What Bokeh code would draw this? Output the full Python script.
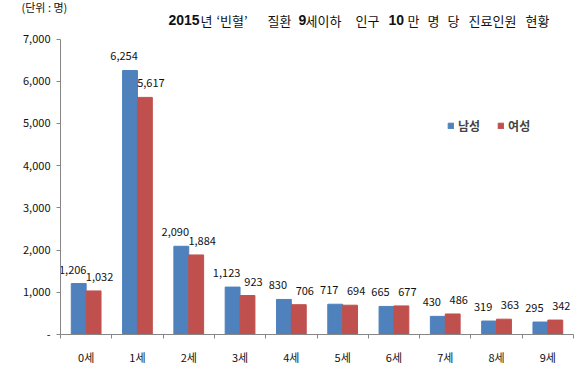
from bokeh.plotting import figure
from bokeh.models import (Range1d, FixedTicker, Legend, LegendItem, Label, Title,
                          ColumnDataSource, NumeralTickFormatter)
from bokeh.embed import file_html
from bokeh.resources import INLINE
from bokeh.core.properties import value

# ---- data ----
ages = ["0세", "1세", "2세", "3세", "4세", "5세", "6세", "7세", "8세", "9세"]
male = [1206, 6254, 2090, 1123, 830, 717, 665, 430, 319, 295]
female = [1032, 5617, 1884, 923, 706, 694, 677, 486, 363, 342]
y_ticks = [0, 1000, 2000, 3000, 4000, 5000, 6000, 7000]

BLUE = "#4F81BD"
RED = "#C0504D"
AXIS = "#868686"
NUM_FONT = "Liberation Sans Narrow, Noto Sans CJK KR"
KR_FONT = "Noto Sans CJK KR"

W, H = 576, 368
LEFT, RIGHT, BOTTOM, TOP = 60, 3, 34, 12
frame_w = W - LEFT - RIGHT
frame_h = H - TOP - BOTTOM
px_per_unit = (frame_h - (38.5 - TOP)) / 7000.0
y_end = frame_h / px_per_unit

p = figure(width=W, height=H, output_backend="svg", toolbar_location=None,
           x_range=Range1d(-0.5, len(ages) - 0.5), y_range=Range1d(0, y_end),
           min_border_left=LEFT, min_border_right=RIGHT,
           min_border_bottom=BOTTOM, min_border_top=TOP)
p.outline_line_color = None
p.xgrid.visible = False
p.ygrid.visible = False
p.background_fill_color = "white"

idx = list(range(len(ages)))
bw = 0.29
src_m = ColumnDataSource(dict(x=[i - bw / 2 for i in idx], top=male,
                              t=[f"{v:,}" for v in male]))
src_f = ColumnDataSource(dict(x=[i + bw / 2 for i in idx], top=female,
                              t=[f"{v:,}" for v in female]))

rm = p.vbar(x="x", top="top", width=bw, source=src_m, fill_color=BLUE, line_color=BLUE)
rf = p.vbar(x="x", top="top", width=bw, source=src_f, fill_color=RED, line_color=RED)

for s, dx in ((src_m, -6), (src_f, 6)):
    p.text(x="x", y="top", text="t", source=s, text_align="center",
           text_baseline="middle", x_offset=dx, y_offset=-14,
           text_font=value(NUM_FONT), text_font_size="11px", text_color="#111111")

# y axis
ya = p.yaxis[0]
ya.bounds = (0, 7000)
ya.ticker = FixedTicker(ticks=y_ticks)
ya.formatter = NumeralTickFormatter(format="0,0")
ya.major_label_overrides = {0: "-"}
ya.axis_line_color = AXIS
ya.major_tick_line_color = AXIS
ya.major_tick_out = 4
ya.major_tick_in = 0
ya.minor_tick_line_color = None
ya.major_label_standoff = 6
ya.major_label_text_font = NUM_FONT
ya.major_label_text_font_size = "11px"
ya.major_label_text_color = "#111111"

# x axis
xa = p.xaxis[0]
xa.ticker = FixedTicker(ticks=idx, minor_ticks=[i - 0.5 for i in range(len(ages) + 1)])
xa.major_label_overrides = {i: a for i, a in enumerate(ages)}
xa.axis_line_color = AXIS
xa.major_tick_line_color = None
xa.major_tick_out = 0
xa.major_tick_in = 0
xa.minor_tick_line_color = AXIS
xa.minor_tick_out = 4
xa.minor_tick_in = 0
xa.major_label_standoff = 10
xa.major_label_text_font = NUM_FONT
xa.major_label_text_font_size = "11px"
xa.major_label_text_color = "#111111"

# legend
legend = Legend(items=[LegendItem(label="남성", renderers=[rm]),
                       LegendItem(label="여성", renderers=[rf])],
                orientation="horizontal", location=(387, 200),
                glyph_width=7, glyph_height=7, label_standoff=4, spacing=17,
                padding=0, margin=0, border_line_color=None,
                background_fill_alpha=0, label_text_font=KR_FONT,
                label_text_font_size="12px", label_text_font_style="bold",
                label_height=14)
p.add_layout(legend)

def px_to_x(px):
    return (px - LEFT) / (frame_w / len(ages)) - 0.5

def py_to_y(py):
    return (frame_h - (py - TOP)) / px_per_unit

# title segments (page pixel start, text, bold)
title_parts = [(168, "2015", True), (200, "년", False), (216, "‘빈혈’", False),
               (267, "질환", False), (298, "9", True), (305, "세이하", False),
               (355, "인구", False), (388, "10", True), (407, "만", False),
               (427, "명", False), (447, "당", False), (468, "진료인원", False),
               (525, "현황", False)]
for px, txt, bold in title_parts:
    p.add_layout(Label(x=px_to_x(px), y=py_to_y(19.5), text=txt,
                       text_font="Liberation Sans, Noto Sans CJK KR" if bold else KR_FONT,
                       text_font_size="14px" if bold else "13px",
                       text_font_style="bold" if bold else "normal",
                       text_baseline="middle", text_align="left",
                       text_color="#111111"))

# unit note in the top panel (annotations inside the frame are clipped)
p.add_layout(Title(text="(단위 : 명)", align="left", offset=-39, standoff=-7,
                   text_font=KR_FONT, text_font_size="11px", text_font_style="normal",
                   text_color="#111111", vertical_align="middle"), "above")

open("out.html", "w").write(file_html(p, INLINE))
